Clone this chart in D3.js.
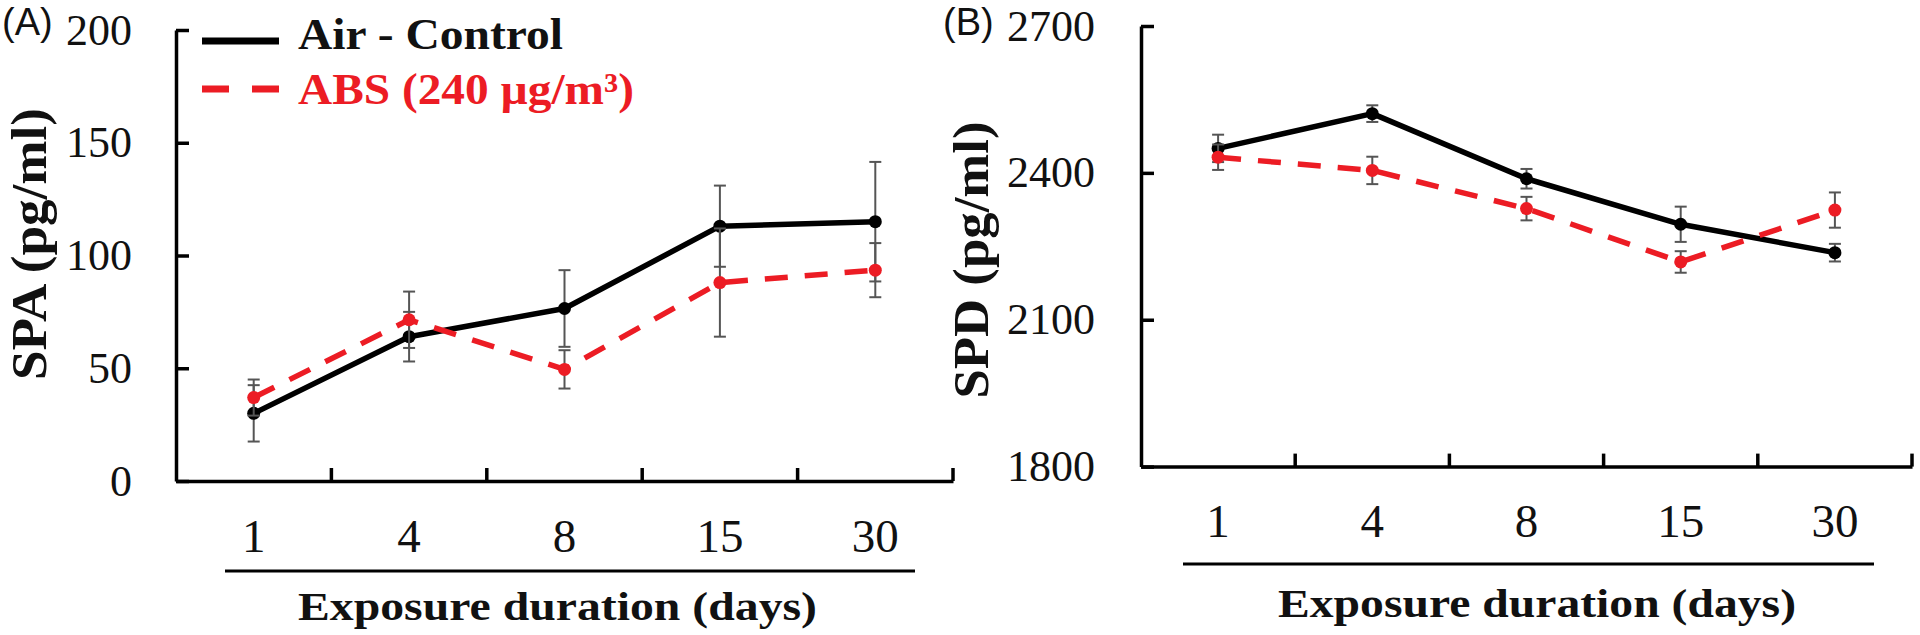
<!DOCTYPE html>
<html>
<head>
<meta charset="utf-8">
<script src="https://cdn.jsdelivr.net/npm/d3@7"></script>
<style>
  html, body { margin: 0; padding: 0; background: #fff; }
  svg { display: block; }
</style>
</head>
<body>
<svg id="chart" width="1920" height="635"></svg>
<script>
// ---- Data ----
const categories = ["1", "4", "8", "15", "30"];
const spaControl = [30, 64, 76.5, 113, 115];
const spaControlErr = [12.5, 11, 17, 18, 26.5];
const spaABS = [37, 71.5, 49.5, 88, 93.5];
const spaABSErr = [8, 12.5, 8.5, 24, 12];
const spdControl = [2450, 2521, 2388, 2295, 2237];
const spdControlErr = [28, 17, 20, 36, 18];
const spdABS = [2432, 2405, 2327, 2218, 2324];
const spdABSErr = [26, 28, 24, 22, 36];
const spaTicks = [0, 50, 100, 150, 200];
const spdTicks = [1800, 2100, 2400, 2700];
const seriesNames = ["Air - Control", "ABS (240 \u00b5g/m\u00b3)"];
const xTitle = "Exposure duration (days)";

// ---- Styles ----
const RED = "#ec1c24";
const BLACK = "#000";
const ERR = "#555";
const SERIF = "'Liberation Serif', 'Times New Roman', serif";
const SANS = "'Liberation Sans', Arial, sans-serif";

const svg = d3.select("#chart");

const panels = [
  {
    label: "(A)", labelX: 2, labelY: 35,
    yTitle: "SPA (pg/ml)", yTitleX: 46, yTitleY: 244, yTitleLen: 272,
    x0: 176, x1: 953, yBottom: 481, yTop: 30, tickPad: 44,
    domain: [0, 200], ticks: spaTicks,
    control: spaControl, controlErr: spaControlErr,
    abs: spaABS, absErr: spaABSErr,
    catLabelY: 552, bracketY: 571, bracketX: [225, 915],
    titleY: 620, titleX: [298, 817], legend: true
  },
  {
    label: "(B)", labelX: 943, labelY: 35,
    yTitle: "SPD (pg/ml)", yTitleX: 988, yTitleY: 260, yTitleLen: 277,
    x0: 1141, x1: 1912, yBottom: 466.6, yTop: 26, tickPad: 46,
    domain: [1800, 2700], ticks: spdTicks,
    control: spdControl, controlErr: spdControlErr,
    abs: spdABS, absErr: spdABSErr,
    catLabelY: 537, bracketY: 564, bracketX: [1183, 1874],
    titleY: 617, titleX: [1278, 1796], legend: false
  }
];

panels.forEach(p => {
  const g = svg.append("g");
  const x = d3.scaleBand().domain(categories).range([p.x0, p.x1]).padding(0);
  const y = d3.scaleLinear().domain(p.domain).range([p.yBottom, p.yTop]);

  // y axis
  const yAxis = d3.axisLeft(y).tickValues(p.ticks).tickSizeInner(-13).tickSizeOuter(0).tickPadding(p.tickPad)
    .tickFormat(d3.format("d"));
  const ya = g.append("g").attr("transform", `translate(${p.x0},0)`).call(yAxis);
  ya.select(".domain").attr("stroke", BLACK).attr("stroke-width", 3.5);
  ya.selectAll(".tick line").attr("stroke", BLACK).attr("stroke-width", 3.5);
  ya.selectAll(".tick text").attr("font-family", SERIF).attr("font-size", 44).attr("fill", "#111");

  // x axis line with boundary ticks
  const xa = g.append("g").attr("transform", `translate(0,${p.yBottom})`)
    .call(d3.axisBottom(x).tickSize(0).tickFormat(""));
  xa.select(".domain").attr("stroke", BLACK).attr("stroke-width", 3.5);
  g.selectAll(".xbound").data(categories).enter().append("line")
    .attr("x1", d => x(d) + x.bandwidth()).attr("x2", d => x(d) + x.bandwidth())
    .attr("y1", p.yBottom).attr("y2", p.yBottom - 13)
    .attr("stroke", BLACK).attr("stroke-width", 3.5);

  // category labels
  g.selectAll(".cat").data(categories).enter().append("text")
    .attr("x", d => x(d) + x.bandwidth() / 2).attr("y", p.catLabelY)
    .attr("text-anchor", "middle").attr("font-family", SERIF).attr("font-size", 47)
    .attr("fill", "#111").text(d => d);

  // bracket line and x title
  g.append("line").attr("x1", p.bracketX[0]).attr("x2", p.bracketX[1])
    .attr("y1", p.bracketY).attr("y2", p.bracketY).attr("stroke", BLACK).attr("stroke-width", 3);
  g.append("text").attr("x", p.titleX[0]).attr("y", p.titleY)
    .attr("font-family", SERIF).attr("font-weight", "bold").attr("font-size", 41)
    .attr("textLength", p.titleX[1] - p.titleX[0]).attr("lengthAdjust", "spacingAndGlyphs")
    .attr("fill", "#111").text(xTitle);

  // y title
  g.append("text").attr("transform", `translate(${p.yTitleX},${p.yTitleY}) rotate(-90)`)
    .attr("text-anchor", "middle").attr("font-family", SERIF).attr("font-weight", "bold")
    .attr("font-size", 51).attr("textLength", p.yTitleLen).attr("lengthAdjust", "spacingAndGlyphs")
    .attr("fill", "#111").text(p.yTitle);

  // panel label
  g.append("text").attr("x", p.labelX).attr("y", p.labelY)
    .attr("font-family", SANS).attr("font-size", 38).attr("fill", "#111").text(p.label);

  const cx = d => x(d) + x.bandwidth() / 2;

  function drawSeries(vals, errs, color, dash) {
    const data = categories.map((c, i) => ({ c, v: vals[i], e: errs[i] }));
    const eg = g.append("g");
    eg.selectAll("line.v").data(data).enter().append("line")
      .attr("x1", d => cx(d.c)).attr("x2", d => cx(d.c))
      .attr("y1", d => y(d.v - d.e)).attr("y2", d => y(d.v + d.e))
      .attr("stroke", ERR).attr("stroke-width", 2);
    [-1, 1].forEach(s => {
      eg.selectAll("line.cap" + s).data(data).enter().append("line")
        .attr("x1", d => cx(d.c) - 6).attr("x2", d => cx(d.c) + 6)
        .attr("y1", d => y(d.v + s * d.e)).attr("y2", d => y(d.v + s * d.e))
        .attr("stroke", ERR).attr("stroke-width", 2);
    });
    const line = d3.line().x(d => cx(d.c)).y(d => y(d.v));
    g.append("path").datum(data).attr("d", line).attr("fill", "none")
      .attr("stroke", color).attr("stroke-width", 5.5)
      .attr("stroke-dasharray", dash || null).attr("stroke-linejoin", "round");
    g.selectAll(null).data(data).enter().append("circle")
      .attr("cx", d => cx(d.c)).attr("cy", d => y(d.v)).attr("r", 6.5).attr("fill", color);
  }

  drawSeries(p.control, p.controlErr, BLACK, null);
  drawSeries(p.abs, p.absErr, RED, "23,17");

  if (p.legend) {
    const lg = g.append("g");
    lg.append("line").attr("x1", 202).attr("x2", 279).attr("y1", 41).attr("y2", 41)
      .attr("stroke", BLACK).attr("stroke-width", 7);
    lg.append("line").attr("x1", 202).attr("x2", 279).attr("y1", 89).attr("y2", 89)
      .attr("stroke", RED).attr("stroke-width", 7).attr("stroke-dasharray", "27,23");
    lg.append("text").attr("x", 298).attr("y", 48.5).attr("font-family", SERIF)
      .attr("font-weight", "bold").attr("font-size", 45).attr("fill", "#111")
      .attr("textLength", 265).attr("lengthAdjust", "spacingAndGlyphs").text(seriesNames[0]);
    lg.append("text").attr("x", 298).attr("y", 104).attr("font-family", SERIF)
      .attr("font-weight", "bold").attr("font-size", 44).attr("fill", RED)
      .attr("textLength", 336).attr("lengthAdjust", "spacingAndGlyphs").text(seriesNames[1]);
  }
});
</script>
</body>
</html>
